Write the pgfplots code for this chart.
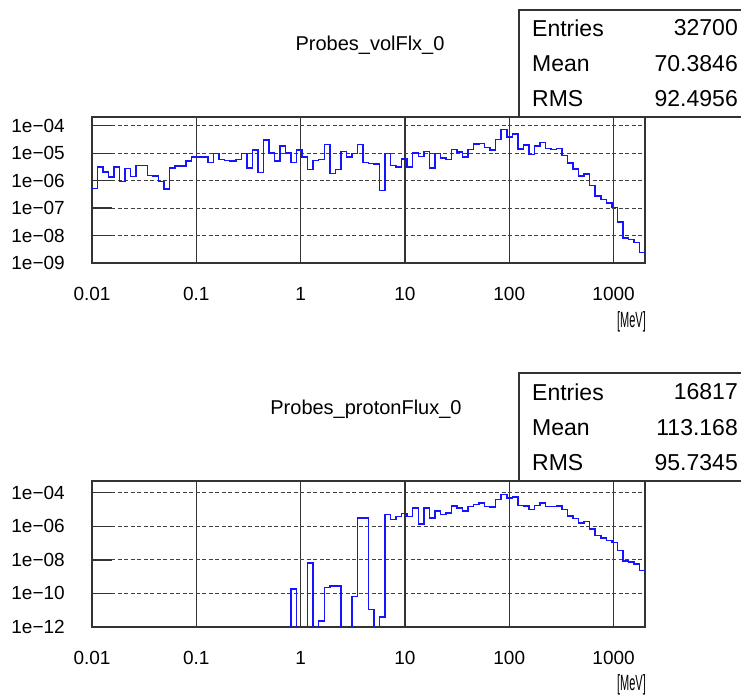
\documentclass[border=0pt]{standalone}
\usepackage{fontspec}
\setmainfont{Liberation Sans}
\usepackage{pgfplots}
\pgfplotsset{compat=1.18}
\pgfplotstableread{
x y
0.01 5.25e-7
0.011298 3.16e-6
0.012765 2.04e-6
0.014422 1.35e-6
0.016294 3.16e-6
0.018410 9.33e-7
0.020800 2.75e-6
0.023500 1.41e-6
0.026550 3.63e-6
0.029997 3.63e-6
0.033891 1.55e-6
0.038291 1.48e-6
0.043262 9.33e-7
0.048878 4.90e-7
0.055223 2.88e-6
0.062392 3.47e-6
0.070492 3.47e-6
0.079643 5.13e-6
0.089982 7.41e-6
0.10166 7.24e-6
0.11486 7.24e-6
0.12977 4.57e-6
0.14662 9.77e-6
0.16565 5.89e-6
0.18716 5.50e-6
0.21145 5.13e-6
0.23891 6.03e-6
0.26992 9.77e-6
0.30496 2.88e-6
0.34455 1.29e-5
0.38928 1.95e-6
0.43981 3.02e-5
0.49691 1.02e-5
0.56141 5.25e-6
0.63429 1.82e-5
0.71663 1.02e-5
0.80966 4.57e-6
0.91477 1.29e-5
1.0335 7.24e-6
1.1677 2.57e-6
1.3193 5.50e-6
1.4905 6.03e-6
1.6840 2.09e-5
1.9026 1.82e-6
2.1496 2.57e-6
2.4287 1.17e-5
2.7440 7.24e-6
3.1002 9.77e-6
3.5026 2.09e-5
3.9573 4.68e-6
4.4710 4.27e-6
5.0514 3.98e-6
5.7072 4.37e-7
6.4481 9.77e-6
7.2852 3.63e-6
8.2309 3.16e-6
9.2994 6.31e-6
10.507 3.16e-6
11.871 1.02e-5
13.412 7.76e-6
15.158 1.17e-5
17.126 2.88e-6
19.349 9.77e-6
21.861 6.76e-6
24.699 6.03e-6
27.905 1.35e-5
31.528 1.12e-5
35.621 7.24e-6
40.245 1.35e-5
45.469 2.14e-5
51.372 2.24e-5
58.040 1.62e-5
65.574 1.29e-5
74.087 3.16e-5
83.705 7.41e-5
94.571 3.89e-5
106.85 5.01e-5
120.72 1.41e-5
136.39 2.00e-5
154.09 8.91e-6
174.10 1.86e-5
196.70 2.51e-5
222.23 1.51e-5
251.08 1.35e-5
283.68 1.48e-5
320.50 8.32e-6
362.11 4.37e-6
409.12 2.63e-6
462.23 1.48e-6
522.23 1.78e-6
590.02 6.61e-7
666.8 2.82e-7
753.4 2.09e-7
851.2 1.55e-7
961.7 1.05e-7
1086.5 3.16e-8
1227.6 8.13e-9
1386.9 7.08e-9
1567.0 5.62e-9
1770.4 2.40e-9
2000 2.40e-9
}\volflx
\pgfplotstableread{
x y
0.71663 1e-13
0.80966 1.86e-10
0.91477 1e-13
1.0335 1e-13
1.1677 6.31e-9
1.3193 1e-13
1.4905 2.29e-12
1.6840 2.19e-10
1.9026 2.69e-10
2.1496 2.69e-10
2.4287 1e-13
2.7440 1e-13
3.1002 6.61e-11
3.5026 3.16e-6
3.9573 3.16e-6
4.4710 1.10e-11
5.0514 1e-13
5.7072 3.98e-12
6.4481 5.01e-6
7.2852 2.57e-6
8.2309 3.72e-6
9.2994 5.89e-6
10.507 3.80e-6
11.871 1.20e-5
13.412 1.41e-6
15.158 1.20e-5
17.126 3.02e-6
19.349 7.94e-6
21.861 5.13e-6
24.699 6.17e-6
27.905 1.58e-5
31.528 1.26e-5
35.621 8.13e-6
40.245 1.51e-5
45.469 2.00e-5
51.372 2.40e-5
58.040 1.51e-5
65.574 1.38e-5
74.087 3.98e-5
83.705 7.59e-5
94.571 5.01e-5
106.85 5.50e-5
120.72 1.74e-5
136.39 1.58e-5
154.09 1.02e-5
174.10 1.74e-5
196.70 2.51e-5
222.23 1.51e-5
251.08 1.51e-5
283.68 1.58e-5
320.50 1.02e-5
362.11 4.07e-6
409.12 2.82e-6
462.23 1.62e-6
522.23 1.95e-6
590.02 7.08e-7
666.8 2.82e-7
753.4 2.04e-7
851.2 1.41e-7
961.7 1.12e-7
1086.5 3.63e-8
1227.6 8.32e-9
1386.9 7.24e-9
1567.0 5.75e-9
1770.4 2.29e-9
2000 2.29e-9
}\protonflx
\pgfplotsset{rootaxis/.style={
  scale only axis, width=553pt, height=146pt,
  anchor=south west,
  xmin=0.01, xmax=2000,
  axis line style={draw=black!80, line width=1.3pt},
  xtick={0.01,0.1,1,10,100,1000},
  xticklabels={0.01,0.1,1,10,100,1000},
  xmajorgrids, x grid style={black!80, line width=1.3pt},
  ymajorgrids, y grid style={black!75, line width=1.1pt, dash pattern=on 4pt off 2.5pt},
  xtick style={draw=none},
  ytick style={black!80, line width=1.3pt},
  tick align=inside, ytick pos=left, major tick length=20pt,
  minor tick style={draw=none},
  xticklabel style={anchor=north, inner sep=0pt, yshift=-24pt, font=\fontsize{19}{19}\selectfont},
  yticklabel style={anchor=east, inner sep=0pt, xshift=-27pt, font=\fontsize{19}{19}\selectfont},
}}
\begin{document}
\begin{tikzpicture}[x=1pt,y=1pt]
\useasboundingbox (0,0) rectangle (741,694);
% top panel
\begin{loglogaxis}[rootaxis, at={(92pt,431pt)},
  ymin=1e-9, ymax=2.1e-4,
  ytick={1e-9,1e-8,1e-7,1e-6,1e-5,1e-4},
  yticklabels={1e−09,1e−08,1e−07,1e−06,1e−05,1e−04}]
\addplot[const plot, color={rgb,255:red,20;green,20;blue,255}, line width=1.5pt] table[x=x,y=y] {\volflx};
\end{loglogaxis}
% bottom panel
\begin{loglogaxis}[rootaxis, at={(92pt,67pt)},
  ymin=1e-12, ymax=5e-4,
  ytick={1e-12,1e-10,1e-8,1e-6,1e-4},
  yticklabels={1e−12,1e−10,1e−08,1e−06,1e−04}]
\addplot[const plot, color={rgb,255:red,20;green,20;blue,255}, line width=1.5pt] table[x=x,y=y] {\protonflx};
\end{loglogaxis}
% titles and units
\node[font=\fontsize{20}{20}\selectfont] at (370,649) {Probes\_volFlx\_0};
\node[font=\fontsize{20}{20}\selectfont] at (366,285) {Probes\_protonFlux\_0};
\node[anchor=east, inner sep=0pt, font=\fontsize{22}{22}\selectfont] at (646,372) {\scalebox{0.5}[1]{[MeV]}};
\node[anchor=east, inner sep=0pt, font=\fontsize{22}{22}\selectfont] at (646,9) {\scalebox{0.5}[1]{[MeV]}};
% stats boxes
\draw[black!80, line width=1.2pt, fill=white] (519,577) rectangle (745,684);
\begin{scope}[font=\fontsize{23}{23}\selectfont]
\node[anchor=west, inner sep=0pt] at (532,666) {Entries};
\node[anchor=east, inner sep=0pt] at (738,666) {32700};
\node[anchor=west, inner sep=0pt] at (532,630) {Mean};
\node[anchor=east, inner sep=0pt] at (738,630) {70.3846};
\node[anchor=west, inner sep=0pt] at (532,595) {RMS};
\node[anchor=east, inner sep=0pt] at (738,595) {92.4956};
\end{scope}
\draw[black!80, line width=1.2pt, fill=white] (519,213) rectangle (745,321);
\begin{scope}[font=\fontsize{23}{23}\selectfont]
\node[anchor=west, inner sep=0pt] at (532,302) {Entries};
\node[anchor=east, inner sep=0pt] at (738,302) {16817};
\node[anchor=west, inner sep=0pt] at (532,266) {Mean};
\node[anchor=east, inner sep=0pt] at (738,266) {113.168};
\node[anchor=west, inner sep=0pt] at (532,231) {RMS};
\node[anchor=east, inner sep=0pt] at (738,231) {95.7345};
\end{scope}
\end{tikzpicture}
\end{document}
